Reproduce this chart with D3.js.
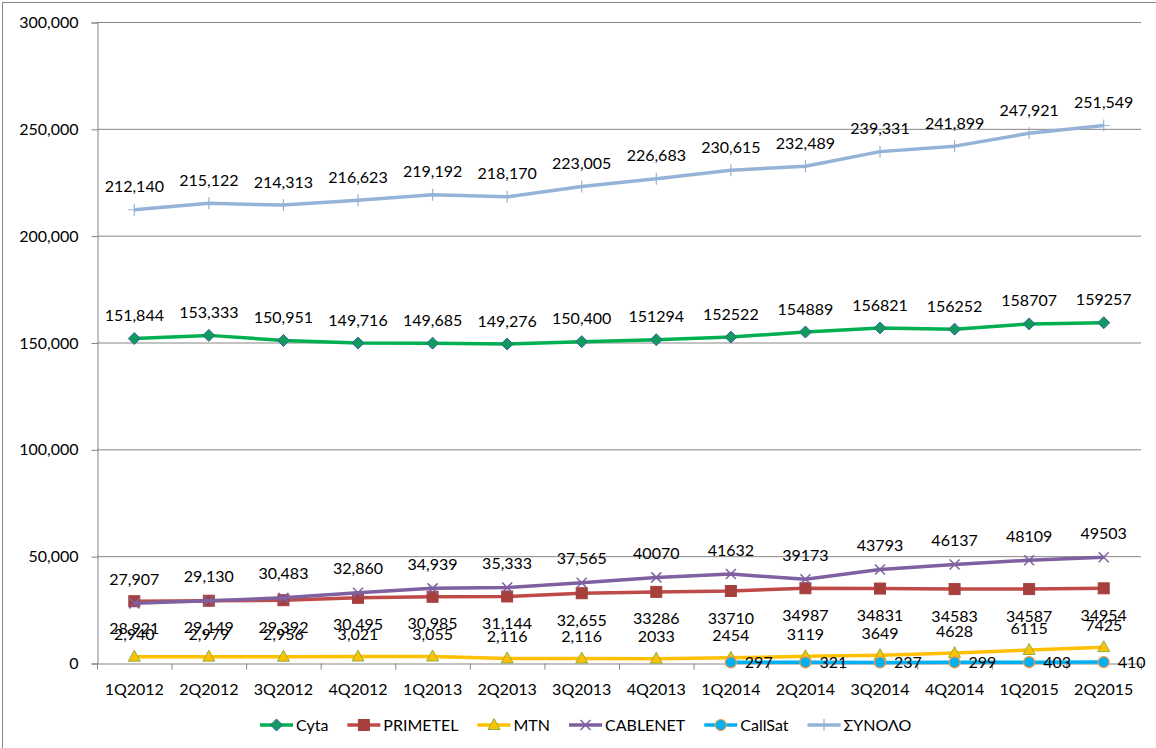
<!DOCTYPE html>
<html>
<head>
<meta charset="utf-8">
<script src="https://cdn.jsdelivr.net/npm/d3@7"></script>
<style>
body { margin: 0; background: #fff; }
text { font-family: Lato, "Noto Sans", sans-serif; fill: #000; }
</style>
</head>
<body>
<svg id="chart" width="1156" height="748"></svg>
<script>
/************************************ Data *******************************/
var quarters = ["1Q2012","2Q2012","3Q2012","4Q2012","1Q2013","2Q2013","3Q2013",
                "4Q2013","1Q2014","2Q2014","3Q2014","4Q2014","1Q2015","2Q2015"];

var cyta     = [151844,153333,150951,149716,149685,149276,150400,151294,152522,154889,156821,156252,158707,159257];
var primetel = [28921,29149,29392,30495,30985,31144,32655,33286,33710,34987,34831,34583,34587,34954];
var mtn      = [2940,2979,2956,3021,3055,2116,2116,2033,2454,3119,3649,4628,6115,7425];
var cablenet = [27907,29130,30483,32860,34939,35333,37565,40070,41632,39173,43793,46137,48109,49503];
var callsat  = [null,null,null,null,null,null,null,null,297,321,237,299,403,410];
var synolo   = [212140,215122,214313,216623,219192,218170,223005,226683,230615,232489,239331,241899,247921,251549];

var seriesNames = ["Cyta","PRIMETEL","MTN","CABLENET","CallSat","ΣΥΝΟΛΟ"];
// how many leading labels of each series are written with a thousands separator
var commaPoints = [7,7,7,7,0,14];

var yTicks = [0,50000,100000,150000,200000,250000,300000];

/************************************ Styles *******************************/
var looks = [
	{line:"#00B050", marker:"diamond",  fill:"#109A5C", stroke:"#3A62A8", label:"above", dy:-23},
	{line:"#BE4B48", marker:"square",   fill:"#A5403D", stroke:"#A5403D", label:"below", dy:27},
	{line:"#FFC000", marker:"triangle", fill:"#FFC000", stroke:"#8DB04A", label:"above", dy:-22},
	{line:"#7F60A0", marker:"cross",    fill:"none",    stroke:"#7F60A0", label:"above", dy:-24},
	{line:"#00B0F0", marker:"circle",   fill:"#00B0F0", stroke:"#F79646", label:"right", dy:0},
	{line:"#95B3D7", marker:"plus",     fill:"none",    stroke:"#95B3D7", label:"above", dy:-23}
];

var series = [cyta, primetel, mtn, cablenet, callsat, synolo].map(function(vals, i) {
	return {name: seriesNames[i], values: vals, look: looks[i], commas: commaPoints[i]};
});

/************************************ Chart *******************************/
var svg = d3.select("#chart");
var plotLeft = 97, plotRight = 1141, plotTop = 22, plotBottom = 663;
var grey = "#868686";

svg.append("rect")
	.attr("x", 2.5).attr("y", 2.5)
	.attr("width", 1170).attr("height", 770)
	.attr("fill", "none").attr("stroke", grey);

var x = d3.scaleBand().domain(quarters).range([plotLeft, plotRight]);
var cx = function(q) { return x(q) + x.bandwidth() / 2; };
var y = d3.scaleLinear().domain([0, 300000]).range([plotBottom, plotTop]);

// gridlines
svg.append("g").selectAll("line")
	.data(yTicks.filter(function(d) { return d > 0; }))
	.join("line")
	.attr("x1", plotLeft).attr("x2", plotRight)
	.attr("y1", function(d) { return y(d) + 0.5; })
	.attr("y2", function(d) { return y(d) + 0.5; })
	.attr("stroke", grey).attr("stroke-width", 1);

// y axis
var yAxis = svg.append("g")
	.attr("transform", "translate(" + (plotLeft + 0.5) + ",0.5)")
	.call(d3.axisLeft(y).tickValues(yTicks).tickSize(6).tickPadding(13).tickFormat(d3.format(",")));
yAxis.selectAll("path, line").attr("stroke", grey);
yAxis.selectAll("text").attr("font-size", 16).attr("font-family", "Lato, 'Noto Sans', sans-serif");

// x axis
var xAxis = svg.append("g")
	.attr("transform", "translate(0," + (plotBottom + 0.5) + ")")
	.call(d3.axisBottom(x).tickSize(0).tickPadding(20));
xAxis.select(".domain").attr("stroke", grey);
xAxis.selectAll("text").attr("font-size", 16).attr("font-family", "Lato, 'Noto Sans', sans-serif");
xAxis.append("g").selectAll("line")
	.data(d3.range(quarters.length + 1))
	.join("line")
	.attr("x1", function(i) { return plotLeft + i * x.bandwidth() + 0.5; })
	.attr("x2", function(i) { return plotLeft + i * x.bandwidth() + 0.5; })
	.attr("y1", 0).attr("y2", 6)
	.attr("stroke", grey);

/************************************ Markers *******************************/
function drawMarker(g, look) {
	switch (look.marker) {
		case "diamond":
			g.append("path").attr("d", "M0,-6L6,0L0,6L-6,0Z")
				.attr("fill", look.fill).attr("stroke", look.stroke).attr("stroke-width", 1);
			break;
		case "square":
			g.append("rect").attr("x", -5.5).attr("y", -5.5).attr("width", 11).attr("height", 11)
				.attr("fill", look.fill).attr("stroke", look.stroke);
			break;
		case "triangle":
			g.append("path").attr("d", "M0,-6.5L6,4.5L-6,4.5Z")
				.attr("fill", look.fill).attr("stroke", look.stroke).attr("stroke-width", 1);
			break;
		case "cross":
			g.append("path").attr("d", "M-5,-5L5,5M-5,5L5,-5")
				.attr("stroke", look.stroke).attr("stroke-width", 1.5);
			break;
		case "circle":
			g.append("circle").attr("r", 5.5)
				.attr("fill", look.fill).attr("stroke", look.stroke).attr("stroke-width", 1.2);
			break;
		case "plus":
			g.append("path").attr("d", "M-6,0L6,0M0,-6L0,6")
				.attr("stroke", look.stroke).attr("stroke-width", 1.2);
			break;
	}
}

var line = d3.line()
	.defined(function(d) { return d.v !== null; })
	.x(function(d) { return cx(d.q); })
	.y(function(d) { return y(d.v); });

series.forEach(function(s) {
	var pts = s.values.map(function(v, i) { return {q: quarters[i], v: v, i: i}; });
	var g = svg.append("g");
	g.append("path")
		.datum(pts)
		.attr("d", line)
		.attr("fill", "none")
		.attr("stroke", s.look.line)
		.attr("stroke-width", 3.5)
		.attr("stroke-linejoin", "round");
	g.selectAll("g.mk")
		.data(pts.filter(function(d) { return d.v !== null; }))
		.join("g")
		.attr("class", "mk")
		.attr("transform", function(d) { return "translate(" + cx(d.q) + "," + y(d.v) + ")"; })
		.each(function() { drawMarker(d3.select(this), s.look); });
});

// data labels
var withComma = d3.format(",");
series.forEach(function(s) {
	var pts = s.values.map(function(v, i) { return {q: quarters[i], v: v, i: i}; })
		.filter(function(d) { return d.v !== null; });
	svg.append("g").selectAll("text")
		.data(pts)
		.join("text")
		.attr("x", function(d) { return s.look.label === "right" ? cx(d.q) + 14 : cx(d.q); })
		.attr("y", function(d) { return y(d.v) + s.look.dy; })
		.attr("dy", "0.35em")
		.attr("text-anchor", s.look.label === "right" ? "start" : "middle")
		.attr("font-size", 16)
		.text(function(d) { return d.i < s.commas ? withComma(d.v) : String(d.v); });
});

/************************************ Legend *******************************/
var legend = svg.append("g").attr("transform", "translate(260,725)");
var lx = 0;
series.forEach(function(s) {
	var item = legend.append("g").attr("transform", "translate(" + lx + ",0)");
	item.append("line").attr("x1", 0).attr("x2", 33).attr("y1", 0).attr("y2", 0)
		.attr("stroke", s.look.line).attr("stroke-width", 3.5);
	drawMarker(item.append("g").attr("transform", "translate(16.5,0)"), s.look);
	var t = item.append("text").attr("x", 36).attr("dy", "0.35em")
		.attr("font-size", 16).text(s.name);
	lx += 36 + t.node().getComputedTextLength() + 19;
});
</script>
</body>
</html>
